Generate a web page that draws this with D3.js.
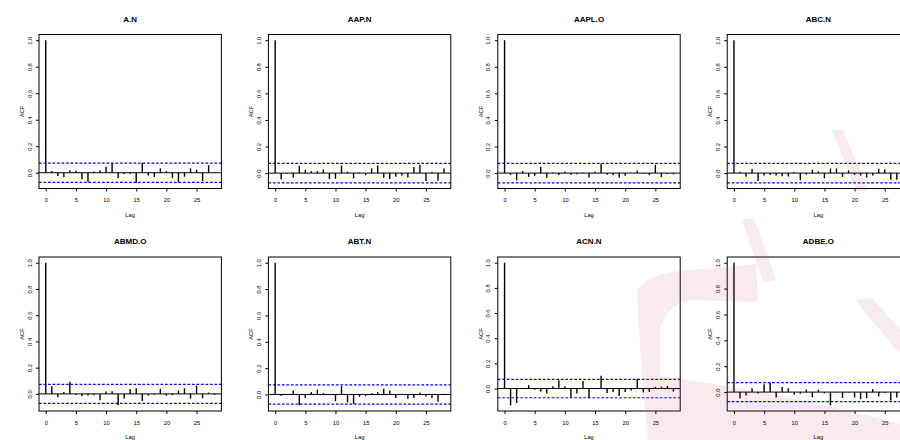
<!DOCTYPE html>
<html>
<head>
<meta charset="utf-8">
<script src="https://cdn.jsdelivr.net/npm/d3@7"></script>
<style>
  body { margin: 0; background: #fff; }
  svg { display: block; font-family: "Liberation Sans", Arial, sans-serif; }
</style>
</head>
<body>
<div id="chart"></div>
<script>
// series names (one panel each)
const names = ["A.N", "AAP.N", "AAPL.O", "ABC.N", "ABMD.O", "ABT.N", "ACN.N", "ADBE.O"];

// autocorrelations, lag 0..28
const acfAN   = [1, 0.013, -0.025, -0.035, 0.018, 0.015, -0.05, -0.07, 0.01, 0.018, 0.045, 0.073, -0.04, -0.01, -0.008, -0.076, 0.073, -0.02, -0.033, 0.033, 0.012, -0.04, -0.073, -0.03, 0.033, 0.022, -0.063, 0.058, 0.005];
const acfAAPN = [1, -0.048, -0.003, -0.033, 0.056, 0.025, 0.015, 0.015, 0.028, -0.045, -0.043, 0.056, 0.01, -0.04, 0.005, -0.015, 0.035, 0.056, -0.035, -0.045, -0.028, -0.018, -0.033, 0.046, 0.063, -0.06, 0.008, -0.058, 0.035];
const acfAAPL = [1, -0.013, -0.055, 0.015, -0.028, -0.02, 0.048, -0.035, 0.005, -0.015, 0.01, -0.013, -0.008, 0.005, -0.033, 0.01, 0.071, -0.013, -0.015, -0.033, -0.02, 0.003, 0.02, -0.003, -0.015, 0.063, -0.03, -0.008, -0.01];
const acfABC  = [1, 0.01, -0.028, 0.03, -0.06, -0.018, -0.015, -0.018, -0.023, -0.025, 0.008, -0.053, -0.01, 0.025, 0.013, -0.038, 0.035, 0.035, -0.028, 0.02, -0.013, -0.018, -0.033, -0.018, 0.033, 0.028, -0.05, -0.05, -0.02];
const acfABMD = [1, 0.059, -0.026, 0.015, 0.092, -0.008, -0.018, -0.013, -0.01, -0.049, 0.018, 0.02, -0.087, -0.036, 0.036, 0.043, -0.054, -0.013, -0.005, 0.038, -0.013, -0.01, 0.026, 0.043, -0.036, 0.064, -0.033, 0.01, -0.008];
const acfABT  = [1, -0.01, -0.003, 0.03, -0.082, -0.026, 0.018, 0.036, 0.01, -0.003, -0.051, 0.064, -0.059, -0.072, -0.018, -0.013, 0.01, 0.018, 0.043, 0.03, -0.026, -0.003, -0.033, -0.026, 0.013, -0.015, -0.026, -0.056, 0.005];
const acfACN  = [1, -0.133, -0.115, 0.002, 0.027, -0.01, -0.024, -0.04, 0.019, 0.067, 0.019, -0.072, -0.04, 0.061, -0.077, 0.002, 0.101, -0.035, -0.027, -0.059, -0.027, -0.016, 0.077, -0.032, -0.027, 0.013, 0.016, 0.021, -0.024];
const acfADBE = [1, -0.05, -0.026, 0.029, -0.01, 0.06, 0.07, -0.042, 0.039, 0.029, -0.018, -0.013, 0.021, -0.039, 0.018, -0.01, -0.102, -0.003, -0.044, -0.003, -0.042, -0.055, -0.047, 0.023, -0.034, -0.005, -0.065, -0.042, -0.02];

// 95% confidence bound per series
const ciBounds = [0.073, 0.073, 0.073, 0.073, 0.073, 0.073, 0.073, 0.073];

const yTicks = [0, 0.2, 0.4, 0.6, 0.8, 1.0];
const xTicks = [0, 5, 10, 15, 20, 25];

const series = [acfAN, acfAAPN, acfAAPL, acfABC, acfABMD, acfABT, acfACN, acfADBE];

const width = 900, height = 440;
const panel = { w: 229.4, h: 222.5, left: 39, top: 34.5, boxW: 182.4, boxH: 154 };

const svg = d3.select("#chart").append("svg")
  .attr("width", width)
  .attr("height", height);

series.forEach((vals, i) => {
  const col = i % 4, row = Math.floor(i / 4);
  const g = svg.append("g")
    .attr("transform", `translate(${col * panel.w + panel.left},${row * panel.h + panel.top})`);

  // R-style 4% axis extension
  const n = vals.length - 1;
  const x = d3.scaleLinear().domain([-0.04 * n, n * 1.04]).range([0, panel.boxW]);
  const lo = Math.min(d3.min(vals), -ciBounds[i]);
  const hi = Math.max(d3.max(vals), ciBounds[i]);
  const r = hi - lo;
  const y = d3.scaleLinear().domain([lo - 0.04 * r, hi + 0.04 * r]).range([panel.boxH, 0]);

  // zero line
  g.append("line")
    .attr("x1", 0).attr("x2", panel.boxW)
    .attr("y1", y(0)).attr("y2", y(0))
    .attr("stroke", "#000").attr("stroke-width", 1);

  // confidence bounds
  [ciBounds[i], -ciBounds[i]].forEach(c => {
    g.append("line")
      .attr("x1", 0).attr("x2", panel.boxW)
      .attr("y1", y(c)).attr("y2", y(c))
      .attr("stroke", "#0000ff").attr("stroke-width", 1.2)
      .attr("stroke-dasharray", "2.7,1.8");
  });

  // acf bars
  g.selectAll("line.bar")
    .data(vals)
    .join("line")
    .attr("class", "bar")
    .attr("x1", (d, k) => x(k)).attr("x2", (d, k) => x(k))
    .attr("y1", y(0)).attr("y2", d => y(d))
    .attr("stroke", "#000").attr("stroke-width", 1.4);

  // box
  g.append("rect")
    .attr("width", panel.boxW).attr("height", panel.boxH)
    .attr("fill", "none").attr("stroke", "#000").attr("stroke-width", 1);

  // y axis
  const yAxis = g.append("g")
    .call(d3.axisLeft(y).tickValues(yTicks).tickSize(3).tickFormat(d3.format(".1f")));
  yAxis.select(".domain").remove();
  yAxis.selectAll("line").attr("stroke", "#000");
  yAxis.selectAll("text")
    .attr("transform", "rotate(-90)")
    .attr("x", 0).attr("y", -7.5).attr("dy", 0)
    .attr("text-anchor", "middle")
    .attr("font-size", 5.8).attr("fill", "#000");

  // x axis
  const xAxis = g.append("g")
    .attr("transform", `translate(0,${panel.boxH})`)
    .call(d3.axisBottom(x).tickValues(xTicks).tickSize(3));
  xAxis.select(".domain").remove();
  xAxis.selectAll("line").attr("stroke", "#000");
  xAxis.selectAll("text")
    .attr("y", 13.8).attr("dy", 0)
    .attr("font-size", 5.8).attr("fill", "#000");

  // labels
  g.append("text")
    .attr("x", panel.boxW / 2).attr("y", -13)
    .attr("text-anchor", "middle")
    .attr("font-size", 8).attr("font-weight", "bold")
    .text(names[i]);

  g.append("text")
    .attr("x", panel.boxW / 2).attr("y", panel.boxH + 28)
    .attr("text-anchor", "middle")
    .attr("font-size", 5.8)
    .text("Lag");

  g.append("text")
    .attr("transform", `translate(-15,${panel.boxH / 2}) rotate(-90)`)
    .attr("text-anchor", "middle")
    .attr("font-size", 5.8)
    .text("ACF");
});

// faint watermark overlay
const wm = svg.append("g").attr("fill", "#c0304f").attr("fill-opacity", 0.1);
wm.append("path").attr("d", "M832,130 L843,130 L868,190 L857,192 Z");
wm.append("path").attr("d", "M742,220 L754,218 L776,280 L763,282 Z");
wm.append("path").attr("d", "M637,290 Q650,274 680,271 L756,264 L758,302 L690,300 Q664,306 660,330 L660,440 L648,440 Q640,360 637,290 Z");
wm.append("path").attr("d", "M660,376 Q780,392 900,424 L900,440 L660,440 Z");
wm.append("path").attr("d", "M855,300 L872,298 L900,330 L900,354 Z");
</script>
</body>
</html>
